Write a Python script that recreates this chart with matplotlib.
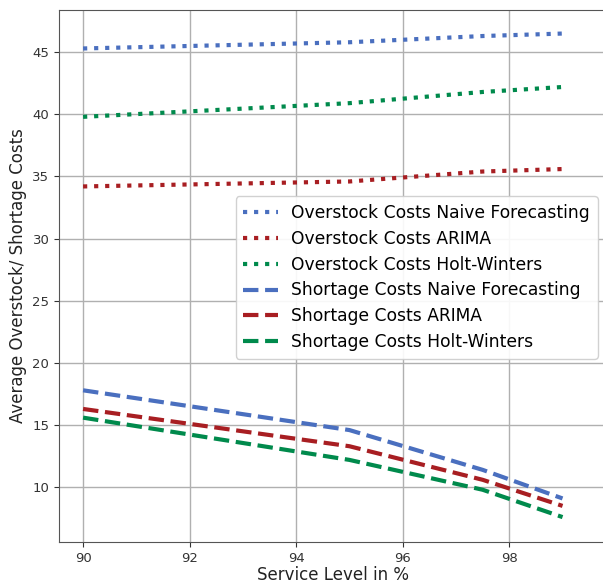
import matplotlib
matplotlib.use("Agg")
import matplotlib.pyplot as plt

service_level = [90, 95, 97.5, 99]

over_naive = [45.3, 45.8, 46.3, 46.5]
over_arima = [34.2, 34.6, 35.4, 35.6]
over_hw = [39.8, 40.9, 41.8, 42.2]

short_naive = [17.8, 14.6, 11.4, 9.1]
short_arima = [16.3, 13.3, 10.6, 8.5]
short_hw = [15.6, 12.2, 9.8, 7.6]

blue = '#4a6fbf'
red = '#a81e22'
green = '#008a4c'

fig = plt.figure(figsize=(6.03, 5.84), dpi=100)
ax = fig.add_axes([0.098, 0.072, 0.91, 0.911])

ax.plot(service_level, over_naive, ':', color=blue, lw=3, label='Overstock Costs Naive Forecasting')
ax.plot(service_level, over_arima, ':', color=red, lw=3, label='Overstock Costs ARIMA')
ax.plot(service_level, over_hw, ':', color=green, lw=3, label='Overstock Costs Holt-Winters')
ax.plot(service_level, short_naive, '--', color=blue, lw=3, label='Shortage Costs Naive Forecasting')
ax.plot(service_level, short_arima, '--', color=red, lw=3, label='Shortage Costs ARIMA')
ax.plot(service_level, short_hw, '--', color=green, lw=3, label='Shortage Costs Holt-Winters')

ax.set_xlim(89.55, 99.85)
ax.set_ylim(5.6, 48.4)
ax.set_xticks([90, 92, 94, 96, 98])
ax.grid(True, color='#b0b0b0', lw=1)
ax.tick_params(labelsize=9.5, colors='#333333')
for s in ax.spines.values():
    s.set_color('#555555')

ax.set_xlabel('Service Level in %', fontsize=12, color='#222222', labelpad=1)
ax.set_ylabel('Average Overstock/ Shortage Costs', fontsize=12, color='#222222')

ax.legend(loc='upper left', bbox_to_anchor=(0.391, 0.664), bbox_transform=fig.transFigure,
          borderaxespad=0, fontsize=12.3, handlelength=2.0, labelspacing=0.46,
          borderpad=0.45, framealpha=0.9)

fig.savefig('out.png', dpi=100)
